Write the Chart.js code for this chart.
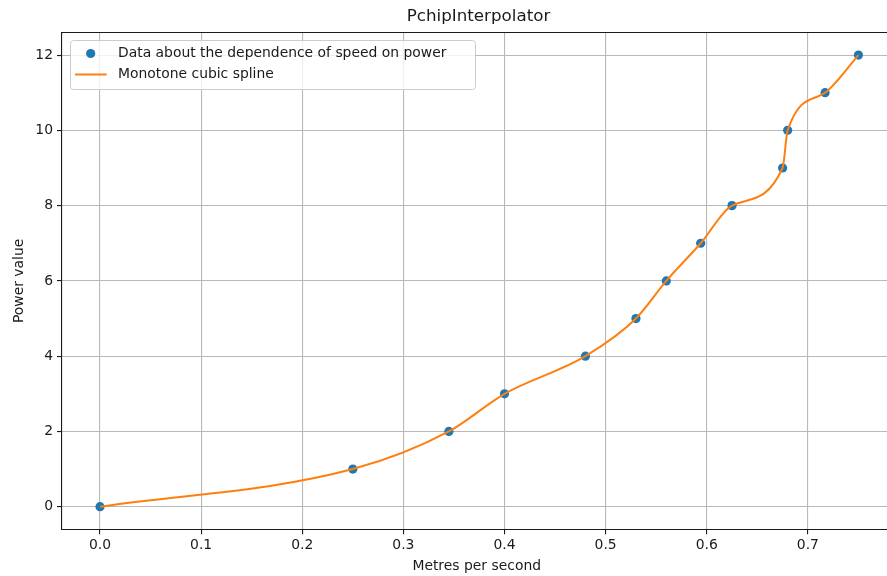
<!DOCTYPE html>
<html>
<head>
<meta charset="utf-8">
<script src="https://cdn.jsdelivr.net/npm/chart.js@4/dist/chart.umd.min.js"></script>
<style>
  html, body { margin: 0; padding: 0; background: #fff; overflow: hidden; width: 887px; height: 576px; }
  #wrap { width: 896px; height: 576px; }
</style>
</head>
<body>
<div id="wrap"><canvas id="chart" width="896" height="576"></canvas></div>
<script>
// data
const speed = [0, 0.25, 0.345, 0.4, 0.48, 0.53, 0.56, 0.594, 0.625, 0.675, 0.68, 0.717, 0.75];
const power = [0, 1, 2, 3, 4, 5, 6, 7, 8, 9, 10, 11, 12];
const xTicks = [0, 0.1, 0.2, 0.3, 0.4, 0.5, 0.6, 0.7];
const yTicks = [0, 2, 4, 6, 8, 10, 12];

const titleText = "PchipInterpolator";
const scatterLabel = "Data about the dependence of speed on power";
const splineLabel = "Monotone cubic spline";

const BLUE = "#1f77b4";
const ORANGE = "#ff7f0e";
const INK = "#1a1a1a";
const FONT = "'DejaVu Sans', sans-serif";

const points = speed.map((s, i) => ({ x: s, y: power[i] }));

// title over the axes centre, top spine, and the in-axes legend
const decor = {
  id: "decor",
  beforeDatasetsDraw(chart) {
    const { ctx, chartArea: a } = chart;
    ctx.save();
    ctx.strokeStyle = INK;
    ctx.lineWidth = 1.1;
    ctx.beginPath();
    ctx.moveTo(a.left, a.top);
    ctx.lineTo(a.right, a.top);
    ctx.stroke();
    ctx.restore();
  },
  afterDraw(chart) {
    const { ctx, chartArea: a } = chart;
    ctx.save();
    ctx.fillStyle = INK;
    ctx.font = "16.7px " + FONT;
    ctx.textAlign = "center";
    ctx.textBaseline = "middle";
    ctx.fillText(titleText, 478.5, 17);

    // legend box
    ctx.beginPath();
    ctx.roundRect(70.5, 40.5, 405, 49, 3);
    ctx.fillStyle = "rgba(255,255,255,0.8)";
    ctx.fill();
    ctx.strokeStyle = "#cccccc";
    ctx.lineWidth = 1;
    ctx.stroke();

    ctx.fillStyle = BLUE;
    ctx.beginPath();
    ctx.arc(90.7, 53.5, 4.6, 0, Math.PI * 2);
    ctx.fill();

    ctx.strokeStyle = ORANGE;
    ctx.lineWidth = 2;
    ctx.beginPath();
    ctx.moveTo(75, 74.5);
    ctx.lineTo(106.7, 74.5);
    ctx.stroke();

    ctx.fillStyle = INK;
    ctx.font = "13.9px " + FONT;
    ctx.textAlign = "left";
    ctx.fillText(scatterLabel, 118, 53.5);
    ctx.fillText(splineLabel, 118, 74.5);
    ctx.restore();
  },
};

new Chart(document.getElementById("chart"), {
  data: {
    datasets: [
      {
        type: "line",
        label: splineLabel,
        data: points,
        borderColor: ORANGE,
        borderWidth: 2,
        fill: false,
        pointRadius: 0,
        cubicInterpolationMode: "monotone",
        order: 0,
      },
      {
        type: "scatter",
        label: scatterLabel,
        data: points,
        backgroundColor: BLUE,
        borderWidth: 0,
        pointRadius: 4.6,
        order: 1,
      },
    ],
  },
  plugins: [decor],
  options: {
    responsive: false,
    animation: false,
    layout: { padding: { top: 32.5, right: 0, left: 0, bottom: 0 } },
    plugins: {
      legend: { display: false },
      title: { display: false },
      tooltip: { enabled: false },
    },
    scales: {
      x: {
        type: "linear",
        position: "bottom",
        min: -0.0376,
        max: 0.7826,
        afterBuildTicks: (s) => { s.ticks = xTicks.map((v) => ({ value: v })); },
        afterFit: (s) => { s.height = 46.7; },
        ticks: {
          color: INK,
          font: { family: FONT, size: 13.9 },
          padding: 3,
          maxRotation: 0,
          callback: (v) => v.toFixed(1),
        },
        grid: { color: "#b8b8b8", lineWidth: 1.1, tickLength: 5, tickColor: INK, drawTicks: true },
        border: { display: true, color: INK, width: 1.1 },
        title: {
          display: true,
          text: "Metres per second",
          color: INK,
          font: { family: FONT, size: 13.9 },
          padding: { top: 0, bottom: 1.7 },
        },
      },
      y: {
        type: "linear",
        position: "left",
        min: -0.6,
        max: 12.6,
        afterBuildTicks: (s) => { s.ticks = yTicks.map((v) => ({ value: v })); },
        afterFit: (s) => { s.width = 62; },
        ticks: {
          color: INK,
          font: { family: FONT, size: 13.9 },
          padding: 4,
          callback: (v) => String(v),
        },
        grid: { color: "#b8b8b8", lineWidth: 1.1, tickLength: 5, tickColor: INK, drawTicks: true },
        border: { display: true, color: INK, width: 1.1 },
        title: {
          display: true,
          text: "Power value",
          color: INK,
          font: { family: FONT, size: 13.9 },
          padding: { top: 11, bottom: 0 },
        },
      },
    },
  },
});
</script>
</body>
</html>
